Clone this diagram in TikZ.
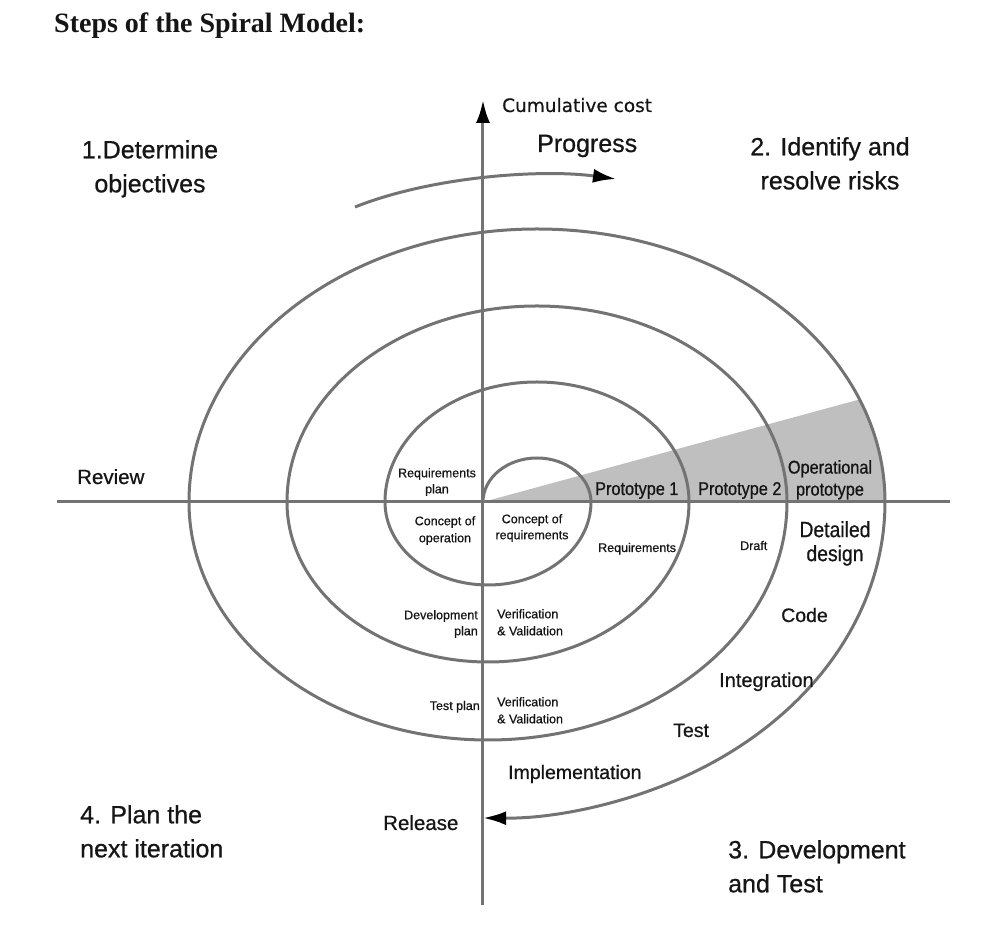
\documentclass[tikz,border=0pt]{standalone}
\usepackage{fontspec}
\setmainfont{Liberation Sans}[FakeBold=0.7]
\newfontfamily\narrowfont{Liberation Sans}[FakeStretch=0.88, FakeBold=0.7]
\newfontfamily\costfont{DejaVu Sans}[FakeBold=0.5]
\newfontfamily\titlefont{Liberation Serif}
\usetikzlibrary{arrows.meta}
\definecolor{linegray}{HTML}{737373}
\definecolor{wedgegray}{HTML}{BFBFBF}
\definecolor{inkblack}{HTML}{151515}

\begin{document}
\begin{tikzpicture}[
  x=1pt, y=1pt,
  every node/.style={inner sep=0pt, text=inkblack},
  axis/.style={linegray, line width=3pt},
  spiral/.style={linegray, line width=3pt},
  headarrow/.style={-{Latex[length=23pt, width=14pt, color=black]}},
  phase/.style={font=\fontsize{25}{34}\selectfont},
  task/.style={font=\fontsize{19.5}{24}\selectfont},
  proto/.style={font=\narrowfont\fontsize{18.5}{22}\selectfont},
  note/.style={font=\fontsize{12.5}{16.5}\selectfont}
]
\useasboundingbox (-483,-439) rectangle (506,502);

% Axes, origin at the centre of the spiral.
\coordinate (o) at (0,0);
\coordinate (ytop) at (0,402);
\coordinate (ybot) at (0,-403);
\coordinate (xleft) at (-426,0);
\coordinate (xright) at (467,0);

% Shaded prototype wedge.
\begin{scope}
  \clip (54,0) ellipse [x radius=348pt, y radius=273pt];
  \fill[wedgegray] (o) -- (420,114.4) -- (420,0) -- cycle;
\end{scope}

\draw[axis] (xleft) -- (xright);
\draw[axis, headarrow] (ybot) -- (ytop);

% The spiral: upper halves centred at (54,0), lower halves at (5,0).
\draw[spiral, headarrow] (o)
  arc[start angle=180, end angle=0, x radius=54pt, y radius=44pt]
  arc[start angle=0, end angle=-180, x radius=103pt, y radius=83pt]
  arc[start angle=180, end angle=0, x radius=152pt, y radius=120pt]
  arc[start angle=0, end angle=-180, x radius=201pt, y radius=160pt]
  arc[start angle=180, end angle=0, x radius=250pt, y radius=196pt]
  arc[start angle=0, end angle=-180, x radius=299pt, y radius=238pt]
  arc[start angle=180, end angle=0, x radius=348pt, y radius=273pt]
  arc[start angle=0, end angle=-90.7, x radius=397pt, y radius=316pt];

% Progress arrow.
\coordinate (pstart) at (-128,295);
\coordinate (pend) at (133,323);
\draw[spiral, headarrow] (pstart) .. controls (-50,326) and (60,333) .. (pend);

% Title and axis labels.
\node[anchor=base west, font=\titlefont\bfseries\fontsize{28}{34}\selectfont]
  (title) at (-429,469) {Steps of the Spiral Model:};
\node[anchor=base west, font=\costfont\fontsize{18.5}{22}\selectfont]
  (cost) at (19,390) {Cumulative cost};
\node[phase, anchor=base west] (progress) at (54,350) {Progress};

% The four quadrants.
\node[phase, anchor=north, align=center] (objectives) at (-333,362)
  {1.Determine\\objectives};
\node[phase, anchor=north, align=center] (risks) at (347,365)
  {2. Identify and\\resolve risks};
\node[phase, anchor=north west, align=left] (devtest) at (245,-338)
  {3. Development\\and Test};
\node[phase, anchor=north west, align=left] (nextplan) at (-403,-303)
  {4. Plan the\\next iteration};

% Milestones on the axes.
\node[task, font=\fontsize{20.5}{24}\selectfont, anchor=base west] (review) at (-406,18) {Review};
\node[task, font=\fontsize{20.5}{24}\selectfont, anchor=base west] (release) at (-100,-328) {Release};

% Development and test activities.
\node[task, anchor=base west] (impl) at (25,-277) {Implementation};
\node[task, anchor=base west] (testlbl) at (190,-235) {Test};
\node[task, font=\fontsize{20}{24}\selectfont, anchor=base west] (integ) at (236,-185) {Integration};
\node[task, anchor=base west] (code) at (298,-120) {Code};
\node[proto, font=\narrowfont\fontsize{22}{24}\selectfont, anchor=north, align=center]
  (design) at (352,-19) {Detailed\\design};

% Prototypes.
\node[proto, anchor=base west] (proto1) at (112,7) {Prototype 1};
\node[proto, anchor=base west] (proto2) at (215,7) {Prototype 2};
\node[proto, anchor=north, align=center] (opproto) at (347,42)
  {Operational\\prototype};

% Small notes inside the loops.
\node[note, anchor=base west] (reqs) at (115,-50) {Requirements};
\node[note, anchor=base west] (draft) at (257,-48) {Draft};
\node[note, font=\fontsize{12.5}{16}\selectfont, anchor=north, align=center]
  (reqplan) at (-46,34) {Requirements\\plan};
\node[note, font=\fontsize{12.5}{17}\selectfont, anchor=north, align=center]
  (conop) at (-38,-14) {Concept of\\operation};
\node[note, font=\fontsize{12.5}{16}\selectfont, anchor=north, align=center]
  (conreq) at (49,-12) {Concept of\\requirements};
\node[note, font=\fontsize{12.5}{16}\selectfont, anchor=north east, align=right]
  (devplan) at (-5,-108) {Development\\plan};
\node[note, font=\fontsize{12.5}{17}\selectfont, anchor=north west, align=left]
  (vv1) at (14,-107) {Verification\\\& Validation};
\node[note, font=\fontsize{12.5}{17}\selectfont, anchor=north west, align=left]
  (vv2) at (14,-195) {Verification\\\& Validation};
\node[note, anchor=base east] (testplan) at (-3,-208) {Test plan};
\end{tikzpicture}
\end{document}
